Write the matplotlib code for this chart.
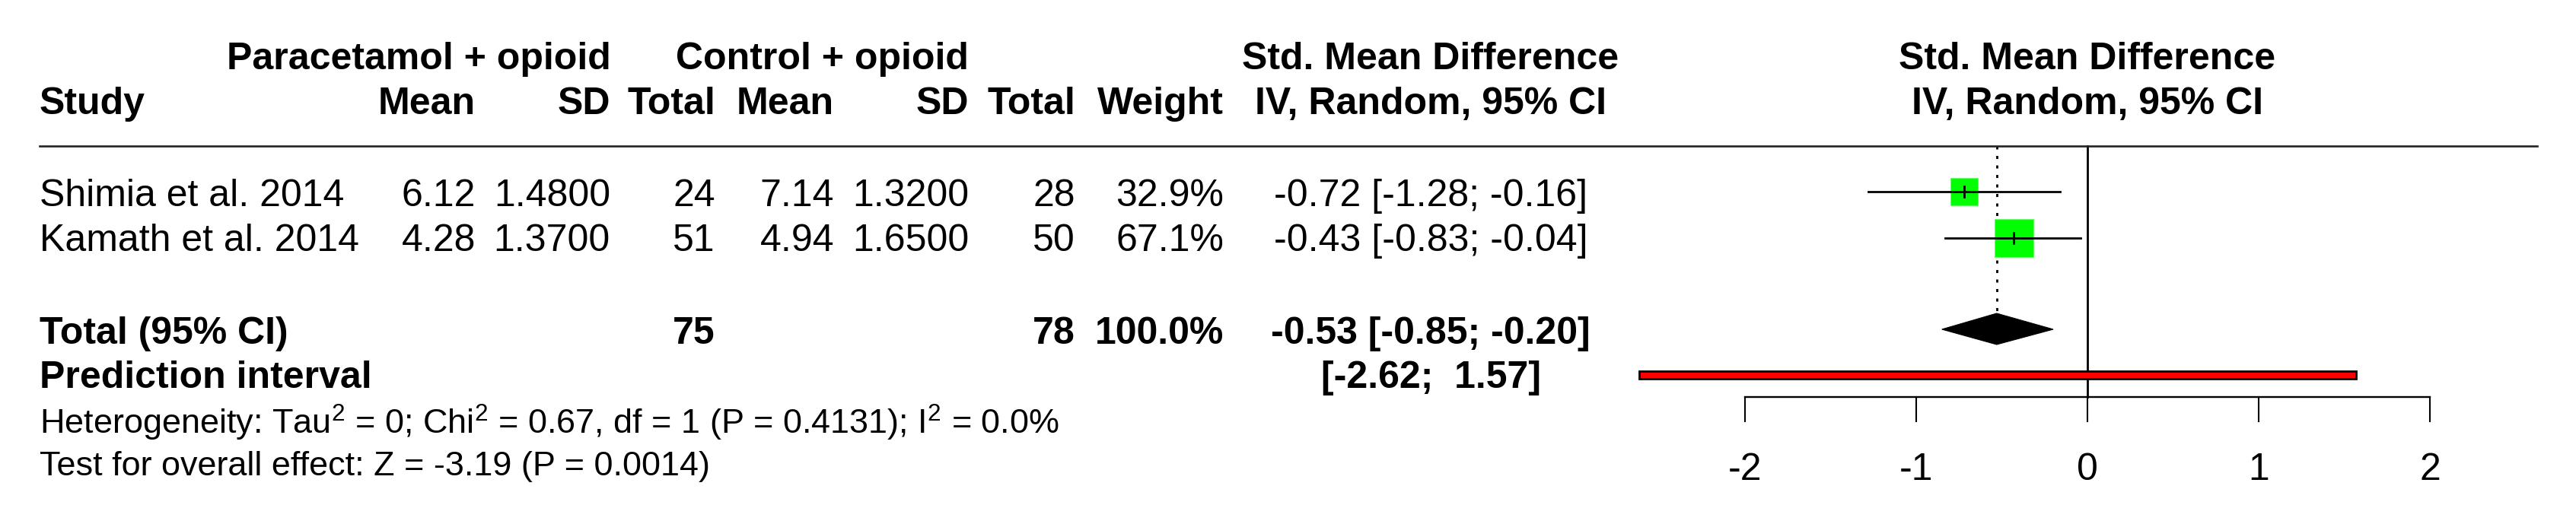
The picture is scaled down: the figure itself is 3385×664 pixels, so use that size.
import numpy as np
import matplotlib.pyplot as plt
from matplotlib.patches import Rectangle, Polygon

# study data
studies = ["Shimia et al. 2014", "Kamath et al. 2014"]
exp_mean = ["6.12", "4.28"]
exp_sd = ["1.4800", "1.3700"]
exp_n = [24, 51]
ctl_mean = ["7.14", "4.94"]
ctl_sd = ["1.3200", "1.6500"]
ctl_n = [28, 50]
weights = [32.9, 67.1]
smd = [-0.72, -0.43]
ci_lo = [-1.28, -0.83]
ci_hi = [-0.16, -0.04]

pooled, pooled_lo, pooled_hi = -0.53, -0.85, -0.20
pred_lo, pred_hi = -2.62, 1.57
ticks = [-2, -1, 0, 1, 2]

het_text = (r"Heterogeneity: $\mathregular{Tau^2}$ = 0; $\mathregular{Chi^2}$ = 0.67, "
            r"df = 1 (P = 0.4131); $\mathregular{I^2}$ = 0.0%")
test_text = "Test for overall effect: Z = -3.19 (P = 0.0014)"

# layout (pixels)
W, H = 3385, 664
X0, PX = 2743, 225  # position of 0 and pixels per unit
y_group, y_head, y_line = 91, 150, 192
y_rows_txt = [271, 330]
y_rows = [252, 313]
y_total_txt, y_total = 452, 433
y_pred_txt, y_pred = 510, 493
y_het, y_test = 571, 625
y_axis, y_tickend, y_ticklab = 522, 554, 631

plt.rcParams['font.family'] = ['Liberation Sans', 'DejaVu Sans']
plt.rcParams['font.size'] = 36

fig = plt.figure(figsize=(W / 100, H / 100), dpi=100)
ax = fig.add_axes([0, 0, 1, 1])
ax.set_xlim(-X0 / PX, (W - X0) / PX)
ax.set_ylim(H, 0)
ax.axis('off')
tr = ax.get_yaxis_transform()


def col(xpx, y, s, ha='right', bold=False, size=None):
    ax.text(xpx / W, y, s, transform=tr, ha=ha, va='baseline',
            fontweight='bold' if bold else 'normal', fontsize=size)


# headers
col(550, y_group, "Paracetamol + opioid", ha='center', bold=True)
col(1080, y_group, "Control + opioid", ha='center', bold=True)
col(1880, y_group, "Std. Mean Difference", ha='center', bold=True)
col(52, y_head, "Study", ha='left', bold=True)
for xp, lab in [(625, "Mean"), (802, "SD"), (940, "Total"), (1096, "Mean"),
                (1273, "SD"), (1413, "Total"), (1608, "Weight")]:
    col(xp, y_head, lab, bold=True)
col(1880, y_head, "IV, Random, 95% CI", ha='center', bold=True)
ax.text(0, y_group, "Std. Mean Difference", ha='center', va='baseline', fontweight='bold')
ax.text(0, y_head, "IV, Random, 95% CI", ha='center', va='baseline', fontweight='bold')

ax.plot([(52 - X0) / PX, (3334 - X0) / PX], [y_line, y_line], color='#222222', lw=1.9)

# study rows
for i in range(len(studies)):
    yt = y_rows_txt[i]
    col(52, yt, studies[i], ha='left')
    col(625, yt, exp_mean[i])
    col(802, yt, exp_sd[i])
    col(940, yt, str(exp_n[i]))
    col(1096, yt, ctl_mean[i])
    col(1273, yt, ctl_sd[i])
    col(1413, yt, str(ctl_n[i]))
    col(1608, yt, f"{weights[i]:.1f}%")
    col(1880, yt, f"{smd[i]:.2f} [{ci_lo[i]:.2f}; {ci_hi[i]:.2f}]", ha='center')

    side = 62 * np.sqrt(weights[i] / 100)
    yc = y_rows[i]
    ax.add_patch(Rectangle((smd[i] - side / 2 / PX, yc - side / 2), side / PX, side,
                           facecolor='#00FF00', edgecolor='#66FF66', lw=0.8, zorder=2))
    ax.plot([ci_lo[i], ci_hi[i]], [yc, yc], color='black', lw=2, zorder=3)
    ax.plot([smd[i], smd[i]], [yc - 7, yc + 7], color='black', lw=2, zorder=3)

# totals
col(52, y_total_txt, "Total (95% CI)", ha='left', bold=True)
col(940, y_total_txt, str(sum(exp_n)), bold=True)
col(1413, y_total_txt, str(sum(ctl_n)), bold=True)
col(1608, y_total_txt, f"{sum(weights):.1f}%", bold=True)
col(1880, y_total_txt, f"{pooled:.2f} [{pooled_lo:.2f}; {pooled_hi:.2f}]", ha='center', bold=True)
col(52, y_pred_txt, "Prediction interval", ha='left', bold=True)
col(1880, y_pred_txt, f"[{pred_lo:.2f}; {pred_hi:5.2f}]", ha='center', bold=True)
col(52, y_het, het_text, ha='left', size=32.4)
col(52, y_test, test_text, ha='left', size=32.4)

# diamond and reference lines
ax.add_patch(Polygon([(pooled_lo, y_total), (pooled, y_total - 21),
                      (pooled_hi, y_total), (pooled, y_total + 20)],
                     closed=True, facecolor='black', edgecolor='black', lw=0.8, zorder=3))
ax.plot([pooled, pooled], [y_line, y_total - 22], color='black', lw=2,
        dashes=(1.45, 3.05), zorder=1)
ax.plot([0, 0], [y_line, y_axis], color='black', lw=2, zorder=1)

# prediction interval bar
ax.add_patch(Rectangle((pred_lo, y_pred - 5), pred_hi - pred_lo, 10,
                       facecolor='#FF0000', edgecolor='black', lw=2, zorder=3))

# x axis
ax.plot([ticks[0], ticks[-1]], [y_axis, y_axis], color='black', lw=1.7)
for t in ticks:
    ax.plot([t, t], [y_axis, y_tickend], color='black', lw=1.5)
    ax.text(t, y_ticklab, str(t), ha='center', va='baseline')

fig.savefig("out.png", dpi=100)
